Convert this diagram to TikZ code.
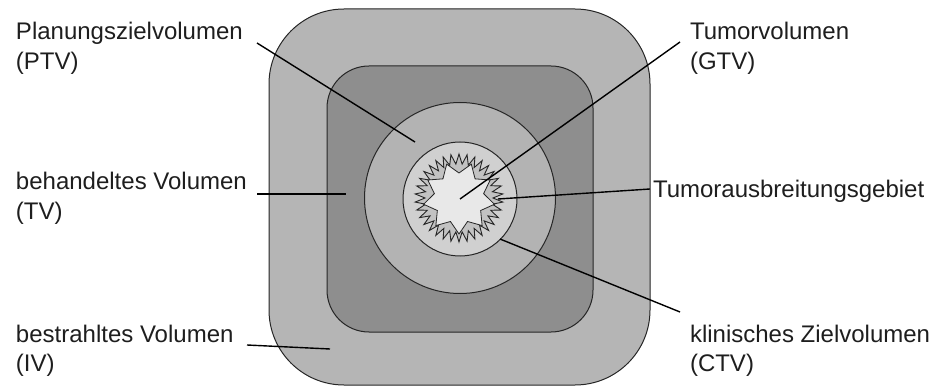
\documentclass[tikz,border=0pt]{standalone}
\usepackage{fontspec}
\setmainfont{Liberation Sans}
\definecolor{outerg}{HTML}{B5B5B5}
\definecolor{innerg}{HTML}{8E8E8E}
\definecolor{ptvg}{HTML}{B3B3B3}
\definecolor{ctvg}{HTML}{D0D0D0}
\definecolor{zigg}{HTML}{C2C2C2}
\definecolor{starg}{HTML}{E8E8E8}
\definecolor{txt}{HTML}{1E1E1E}
\begin{document}
\begin{tikzpicture}[x=1pt,y=-1pt,
  shapeline/.style={draw=black!85, line width=1pt},
  leader/.style={draw=black, line width=1.4pt},
  lbl/.style={inner sep=0pt, outer sep=0pt, align=left, text=txt,
    font=\fontsize{24}{29.5}\selectfont}]
\useasboundingbox (0,0) rectangle (934,387);
% volumes
\path[shapeline, fill=outerg, rounded corners=75pt] (269,9) rectangle (650,385);
\path[shapeline, fill=innerg, rounded corners=42pt] (327,66) rectangle (593,332);
\path[shapeline, fill=ptvg] (460,198) circle (95.5);
\path[shapeline, fill=ctvg] (460,199) circle (57);
\begin{scope}[shift={(459,198)}]
  \path[shapeline, line width=0.9pt, fill=zigg] (90:44)
    \foreach \i in {1,...,67} { -- ({90+\i*5.294118}:{ifthenelse(mod(\i,2)==0,44,34)}) } -- cycle;
  \path[shapeline, line width=0.8pt, fill=starg] (90:36)
    \foreach \i in {1,...,17} { -- ({90+\i*20}:{ifthenelse(mod(\i,2)==0,36,25)}) } -- cycle;
\end{scope}
% labels
\node[lbl, anchor=base west] (ptv) at (16,69.5) {Planungszielvolumen\\(PTV)};
\node[lbl, anchor=base west] (tv) at (16,219.5) {behandeltes Volumen\\(TV)};
\node[lbl, anchor=base west] (iv) at (16,371.5) {bestrahltes Volumen\\(IV)};
\node[lbl, anchor=base west] (gtv) at (690,69.5) {Tumorvolumen\\(GTV)};
\node[lbl, anchor=base west] (tag) at (653,198) {Tumorausbreitungsgebiet};
\node[lbl, anchor=base west] (ctv) at (690,371.5) {klinisches Zielvolumen\\(CTV)};
% leader ends
\coordinate (ptvS) at (257,43);  \coordinate (ptvE) at (415,142);
\coordinate (tvS) at (257,194);  \coordinate (tvE) at (346,194);
\coordinate (ivS) at (247,345);  \coordinate (ivE) at (330,349);
\coordinate (gtvS) at (680,42);  \coordinate (gtvE) at (460,199);
\coordinate (tagS) at (650,189); \coordinate (tagE) at (498,199);
\coordinate (ctvS) at (680,312); \coordinate (ctvE) at (500,239);
\draw[leader] (ptvS) -- (ptvE);
\draw[leader] (tvS) -- (tvE);
\draw[leader] (ivS) -- (ivE);
\draw[leader] (gtvS) -- (gtvE);
\draw[leader] (tagS) -- (tagE);
\draw[leader] (ctvS) -- (ctvE);
\end{tikzpicture}
\end{document}
